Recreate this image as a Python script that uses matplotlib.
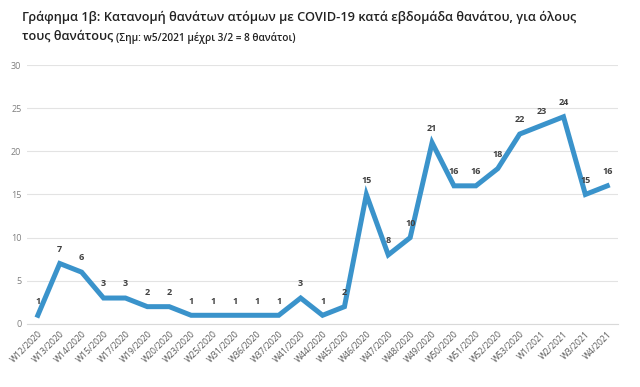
import matplotlib
matplotlib.use("Agg")
import matplotlib.pyplot as plt

weeks = ["W12/2020", "W13/2020", "W14/2020", "W15/2020", "W17/2020", "W19/2020",
         "W20/2020", "W23/2020", "W25/2020", "W31/2020", "W36/2020", "W37/2020",
         "W41/2020", "W44/2020", "W45/2020", "W46/2020", "W47/2020", "W48/2020",
         "W49/2020", "W50/2020", "W51/2020", "W52/2020", "W53/2020", "W1/2021",
         "W2/2021", "W3/2021", "W4/2021"]
deaths = [1, 7, 6, 3, 3, 2, 2, 1, 1, 1, 1, 1, 3, 1, 2, 15, 8, 10, 21, 16, 16, 18,
          22, 23, 24, 15, 16]
yticks = [0, 5, 10, 15, 20, 25, 30]

plt.rcParams['font.family'] = ['Open Sans', 'DejaVu Sans']

fig = plt.figure(figsize=(6.4, 3.87), dpi=100)
ax = fig.add_axes([0.042, 0.163, 0.924, 0.669])

x = list(range(len(weeks)))
ax.plot(x, deaths, color="#3a93cb", lw=3.6, solid_joinstyle="miter", zorder=3)
for xi, v in zip(x, deaths):
    ax.annotate(str(v), (xi, v), xytext=(0, 7), textcoords="offset points",
                ha="center", va="bottom", fontsize=6.5, fontweight="bold",
                color="#404040")

ax.set_xlim(-0.5, len(weeks) - 0.5)
ax.set_ylim(0, 30)
ax.set_yticks(yticks)
ax.set_yticklabels([str(t) for t in yticks], fontsize=6.5, color="#7f7f7f")
ax.set_xticks(x)
ax.set_xticklabels(weeks, rotation=45, ha="right", rotation_mode="anchor",
                   fontsize=6.2, color="#595959")
ax.tick_params(length=0, pad=4)
ax.grid(axis="y", color="#e3e3e3", lw=0.8)
ax.set_axisbelow(True)
for s in ["top", "right", "left"]:
    ax.spines[s].set_visible(False)
ax.spines["bottom"].set_color("#d9d9d9")

fig.text(0.034, 0.955, "Γράφημα 1β: Κατανομή θανάτων ατόμων με COVID-19 κατά εβδομάδα θανάτου, για όλους",
         fontsize=9.2, fontweight="semibold", color="#222222", va="center")
fig.text(0.034, 0.905, "τους θανάτους", fontsize=9.2, fontweight="semibold",
         color="#222222", va="center")
fig.text(0.181, 0.903, "(Σημ: w5/2021 μέχρι 3/2 = 8 θανάτοι)", fontsize=7.3,
         fontweight="semibold", color="#222222", va="center")

fig.savefig("out.png", dpi=100, facecolor="white")
